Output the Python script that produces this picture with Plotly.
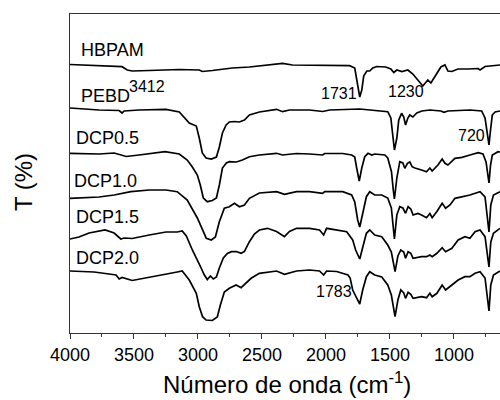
import plotly.graph_objects as go

# FTIR spectra: (wavenumber cm-1, transmittance offset a.u.)
HBPAM = [(4000, 268.5), (3593, 266.3), (3553, 263), (3514, 262), (3381, 262.5), (3146, 263.5),
         (2990, 263), (2966, 261.5), (2888, 262.5), (2731, 265), (2598, 266), (2339, 269.7),
         (2261, 268), (2050, 267.5), (1815, 267.3), (1775, 265), (1752, 250), (1736, 236),
         (1720, 243), (1705, 257), (1681, 262), (1658, 262), (1634, 265), (1603, 266.5),
         (1533, 266), (1493, 264), (1470, 260.5), (1446, 263), (1407, 261.5), (1360, 263),
         (1321, 259), (1282, 253), (1243, 247), (1204, 253), (1180, 250), (1141, 258),
         (1102, 266), (1070, 268), (1047, 262), (1016, 261.5), (969, 264), (890, 264),
         (812, 264.5), (796, 263), (757, 266.5), (640, 268)]

PEBD = [(4000, 225), (3773, 223), (3616, 222.5), (3593, 220), (3577, 222), (3460, 223),
        (3250, 223.7), (3146, 221), (3068, 210), (3013, 207), (2990, 195), (2966, 180),
        (2937, 175), (2896, 174), (2856, 176), (2833, 186), (2809, 200), (2780, 208),
        (2755, 211), (2715, 211.5), (2676, 211), (2637, 213), (2598, 218), (2520, 221),
        (2386, 223.7), (2339, 221.3), (2285, 223), (2128, 223), (2026, 221.5), (1971, 223),
        (1736, 224), (1642, 223), (1517, 221.3), (1493, 215), (1478, 198), (1465, 183),
        (1446, 195), (1431, 213), (1409, 219.7), (1392, 216), (1378, 208), (1360, 215),
        (1345, 218), (1321, 216), (1290, 220), (1251, 222), (1188, 223), (1102, 222),
        (1078, 220.7), (1047, 222), (875, 223), (783, 222), (757, 215), (740, 198),
        (726, 188), (714, 203), (700, 218), (678, 221), (640, 222)]

DCP05 = [(4000, 179.7), (3773, 179), (3655, 180), (3561, 176.5), (3460, 178), (3258, 181.3),
         (3146, 179), (3084, 173), (3044, 166), (3005, 158), (2982, 148), (2958, 135),
         (2927, 131.3), (2888, 132.5), (2856, 135), (2833, 148), (2809, 165), (2778, 170),
         (2755, 171.3), (2700, 171), (2653, 173), (2598, 176.3), (2520, 178), (2386, 179.7),
         (2339, 178), (2230, 179.5), (2128, 179), (2026, 178), (2010, 179.5), (1869, 179.5),
         (1799, 178), (1775, 176), (1760, 165), (1740, 152), (1720, 165), (1697, 176.3),
         (1671, 179.7), (1642, 178), (1619, 179), (1540, 178), (1517, 175), (1488, 161.3),
         (1474, 143), (1465, 134), (1446, 155), (1423, 171.3), (1399, 170), (1384, 164.7),
         (1363, 169.7), (1345, 171), (1327, 166.3), (1305, 165), (1253, 163), (1214, 161.3),
         (1188, 165), (1170, 162), (1125, 168), (1092, 174), (1070, 169.7), (1047, 168),
         (992, 174.7), (937, 175.7), (875, 178), (810, 180.3), (773, 179), (749, 171),
         (726, 150), (714, 168), (700, 178), (655, 181.3), (640, 181)]

DCP10 = [(4000, 134.7), (3773, 136), (3655, 138), (3525, 141.3), (3381, 143), (3250, 143),
         (3162, 141.3), (3084, 133), (3005, 115), (2966, 103), (2935, 94.7), (2896, 93),
         (2864, 96), (2833, 111.3), (2794, 124.7), (2755, 126.3), (2715, 129.7), (2676, 126.3),
         (2637, 128), (2598, 134.7), (2520, 140), (2386, 141.3), (2324, 138.7), (2230, 141.3),
         (2128, 141.3), (2026, 139.7), (2010, 141.3), (1869, 141.3), (1799, 138), (1775, 131),
         (1752, 113), (1736, 106), (1713, 121), (1684, 136.3), (1658, 141.3), (1619, 138),
         (1564, 138), (1517, 135), (1489, 125), (1474, 108), (1465, 94), (1446, 118),
         (1423, 126.3), (1399, 125), (1378, 119.7), (1358, 126.3), (1337, 124), (1319, 118),
         (1282, 119.5), (1253, 118), (1214, 115.3), (1188, 119.5), (1170, 115.3), (1133, 121.5),
         (1092, 129.7), (1065, 124.7), (1031, 128), (992, 134.7), (937, 136.3), (875, 138),
         (796, 141.3), (757, 136), (726, 101), (712, 128), (691, 138), (640, 141.3)]

DCP15 = [(4000, 94), (3930, 96), (3851, 100), (3726, 103), (3655, 100), (3603, 94), (3577, 95),
         (3514, 94.5), (3381, 98), (3250, 101), (3162, 101), (3123, 102), (3091, 97), (3044, 83),
         (2990, 69), (2950, 58), (2927, 53.5), (2903, 57), (2880, 54), (2856, 56), (2833, 65),
         (2802, 75), (2770, 79.5), (2739, 81.3), (2700, 81.5), (2663, 79.7), (2637, 81.5),
         (2598, 91.3), (2559, 99), (2520, 103), (2457, 104.7), (2386, 101.5), (2324, 96.3),
         (2285, 101.5), (2230, 104.7), (2128, 104.7), (2050, 103), (2018, 98), (1995, 104.7),
         (1916, 103), (1838, 101.3), (1791, 93), (1768, 83), (1736, 74), (1713, 85),
         (1684, 99.7), (1658, 103), (1619, 98), (1564, 96.3), (1517, 88), (1489, 81),
         (1470, 67), (1460, 61.3), (1438, 77), (1415, 83), (1392, 81), (1378, 74.7),
         (1358, 81.3), (1337, 79.7), (1319, 74.7), (1253, 76.3), (1214, 76.3), (1188, 78),
         (1170, 76.3), (1133, 79.7), (1092, 85.3), (1065, 81.3), (1016, 84.7), (967, 93),
         (914, 96.3), (875, 94.7), (835, 101.3), (796, 103), (757, 96.3), (726, 66),
         (712, 91), (691, 99.7), (640, 104.7)]

DCP20 = [(4000, 62), (3812, 61), (3695, 59), (3640, 58), (3616, 54), (3593, 55.5), (3514, 52.5),
         (3381, 56), (3250, 59), (3162, 61), (3123, 62), (3068, 53), (3013, 39.7), (2990, 26.3),
         (2964, 16.3), (2937, 13), (2888, 12.5), (2849, 16), (2825, 28), (2794, 41),
         (2755, 44.7), (2702, 48), (2663, 45.3), (2629, 49.5), (2585, 54.7), (2520, 59.7),
         (2386, 62), (2324, 58.7), (2230, 62), (2128, 63), (2050, 62), (2018, 58), (1995, 62),
         (1916, 61.5), (1828, 58), (1811, 55), (1791, 43), (1768, 37), (1736, 29), (1713, 43),
         (1684, 56.3), (1658, 61.3), (1619, 58), (1564, 56), (1517, 48), (1489, 38),
         (1470, 21.3), (1460, 16.3), (1438, 33), (1415, 43), (1392, 40), (1378, 34.7),
         (1358, 40.7), (1337, 38.7), (1319, 34.7), (1253, 36.3), (1214, 35.3), (1188, 39.7),
         (1170, 36.3), (1133, 39.7), (1092, 48), (1065, 43), (1016, 48), (967, 53),
         (914, 56.3), (875, 56.3), (835, 59.7), (796, 61.3), (757, 55), (726, 22),
         (712, 48), (691, 58), (640, 62)]

SERIES = [("HBPAM", HBPAM), ("PEBD", PEBD), ("DCP0.5", DCP05),
          ("DCP1.0", DCP10), ("DCP1.5", DCP15), ("DCP2.0", DCP20)]

# Curve name labels: (text, wavenumber, T)
CURVE_LABELS = [("HBPAM", 3930, 283), ("PEBD", 3930, 237), ("DCP0.5", 3969, 195.5),
                ("DCP1.0", 3984, 152.5), ("DCP1.5", 3969, 116.5), ("DCP2.0", 3969, 75.5)]
# Peak labels: (text, wavenumber, T)
PEAK_LABELS = [("3412", 3553, 247), ("1731", 1897, 239.5), ("1230", 1372, 241.5),
               ("720", 859, 198), ("1783", 1940, 41.5)]

X_TICKS = [4000, 3500, 3000, 2500, 2000, 1500, 1000]

FONT = "Liberation Sans, Arial, Helvetica, sans-serif"

fig = go.Figure()
for name, pts in SERIES:
    fig.add_trace(go.Scatter(
        x=[p[0] for p in pts], y=[p[1] for p in pts], mode="lines", name=name,
        line=dict(color="black", width=1.7), showlegend=False, hoverinfo="skip"))

annotations = []
for text, xv, yv in CURVE_LABELS:
    annotations.append(dict(text=text, x=xv, y=yv, xref="x", yref="y", showarrow=False,
                            xanchor="left", yanchor="middle",
                            font=dict(family=FONT, size=18, color="black")))
for text, xv, yv in PEAK_LABELS:
    annotations.append(dict(text=text, x=xv, y=yv, xref="x", yref="y", showarrow=False,
                            xanchor="left" if text == "3412" else "center", yanchor="middle",
                            font=dict(family=FONT, size=16, color="black")))
annotations.append(dict(text="Número de onda (cm<sup>-1</sup>)", x=0.505, y=0, xref="paper",
                        yref="paper", yshift=-50, showarrow=False, xanchor="center",
                        yanchor="middle", font=dict(family=FONT, size=24, color="black")))
annotations.append(dict(text="T (%)", x=0, y=0.473, xref="paper", yref="paper", xshift=-47,
                        showarrow=False, textangle=-90, xanchor="center", yanchor="middle",
                        font=dict(family=FONT, size=24, color="black")))

fig.update_layout(
    width=500, height=400,
    margin=dict(l=70, r=0, t=14, b=67),
    paper_bgcolor="white", plot_bgcolor="white",
    annotations=annotations,
    xaxis=dict(range=[4000, 640], tickvals=X_TICKS, ticktext=[str(v) for v in X_TICKS],
               ticks="outside", ticklen=5, tickwidth=1.2, tickcolor="#333",
               minor=dict(tickvals=[3750, 3250, 2750, 2250, 1750, 1250, 750], ticks="outside",
                          ticklen=3, tickwidth=1.2, tickcolor="#333"),
               showline=True, linecolor="#333", linewidth=1.3, mirror=True,
               showgrid=False, zeroline=False,
               tickfont=dict(family=FONT, size=18, color="black")),
    yaxis=dict(range=[0, 319], showticklabels=False, ticks="", showline=True,
               linecolor="#333", linewidth=1.3, showgrid=False, zeroline=False),
)

fig.write_html("out.html")
